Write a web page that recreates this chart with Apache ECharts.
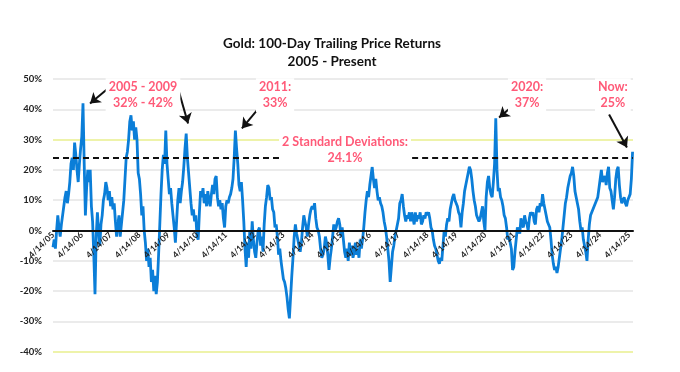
<!DOCTYPE html>
<html><head><meta charset="utf-8">
<script src="https://cdn.jsdelivr.net/npm/echarts/dist/echarts.min.js"></script>
<style>html,body{margin:0;padding:0;background:#fff}#c{width:680px;height:372px}</style>
</head><body><div id="c"></div>
<script>
// 100-day trailing returns (%), 24 samples per year starting 4/14/05
const y2005 = [-5.5, -3, -6, 0, 5, 1, -2, 2, 5, 8, 11, 13, 9, 12, 16, 22, 24, 20, 29, 25, 20, 16, 22, 27];
const y2006 = [31, 42, 22, 5, 14, 20, 16, 20, 8, 3, -8, -21, -2, 6, 0, -5, 2, 5, 10, 12, 16, 14, 10, 13];
const y2007 = [8, 11, 7, 9, 3, -2, 2, 5, -2, 2, 6, 10, 17, 24, 26, 30, 36, 38, 33, 36, 30, 34, 30, 19];
const y2008 = [17, 12, 5, 8, 0, -4, -10, -6, -12, -9, -17, -13, -20, -15, -21, -17, -8, 2, 12, 20, 25, 22, 33, 22];
const y2009 = [17, 12, 14, 9, 5, 1, -4, 3, 10, 14, 9, 13, 16, 21, 27, 32, 24, 19, 14, 9, 5, 7, 3, 5];
const y2010 = [-2, -3, 6, 13, 11, 14, 9, 12, 8, 13, 10, 8, 12, 15, 12, 17, 18, 11, 8, 10, 7, 9, 4, 1];
const y2011 = [8, 10, 9, 11, 12, 14, 17, 24, 33, 27, 22, 15, 13, 16, 10, 3, -6, -12, -4, -9, 0, -6, 3, -3];
const y2012 = [-7, -9, -4, 0, 1, -5, -2, -7, 2, 8, 11, 15, 14, 10, 11, 7, 6, 1, 2, -2, -8, -6, -10, -13];
const y2013 = [-16, -17, -19, -22, -26, -29, -22, -15, -9, -2, 2, -1, -3, -5, -7, -4, 1, 5, 3, 1, -2, 2, 5, 7];
const y2014 = [8, 7, 9, 4, 1, 0, -2, -6, -9, -8, -6, -2, -4, -8, -13, -9, -6, -2, 2, 0, 1, 3, 4, 2];
const y2015 = [-2, 1, -3, -7, -9, -6, -10, -4, -8, -5, -9, -7, -4, -8, -6, -9, -3, -6, -3, 1, 6, 10, 13, 11];
const y2016 = [15, 18, 21, 17, 14, 17, 13, 10, 11, 9, 8, 6, 3, 1, -2, -6, -10, -17, -12, -7, -5, -2, 0, 2];
const y2017 = [4, 9, 10, 12, 8, 5, 3, 5, 4, 6, 3, 6, 4, 2, 6, 3, 5, 4, 6, 2, 3, 5, 4, 6];
const y2018 = [5, 6, 4, 1, 0, -3, -5, -6, -8, -10, -11, -9, -10, -5, 0, -2, 2, 4, 3, 7, 9, 11, 12, 10];
const y2019 = [9, 8, 6, 5, 1, 6, 9, 13, 15, 17, 19, 21, 20, 17, 13, 10, 8, 5, 4, 3, 4, 6, 8, 3];
const y2020 = [0, 11, 16, 18, 14, 12, 11, 16, 22, 37, 20, 13, 14, 11, 10, 8, 5, 4, 1, -3, -2, -4, -6, -13];
const y2021 = [-12, -7, -3, 1, 0, -1, 4, 2, 1, 5, 3, 2, 0, 4, 6, 5, 6, 3, 2, 7, 8, 6, 9, 8];
const y2022 = [12, 9, 7, 5, 3, 2, 1, -3, -8, -11, -13, -12, -14, -12, -9, -6, -3, 1, 5, 9, 11, 14, 16, 18];
const y2023 = [19, 21, 18, 13, 11, 9, 7, 3, 0, 1, -3, -5, -7, -10, -3, 2, 5, 6, 7, 8, 9, 10, 11, 14];
const y2024 = [17, 20, 16, 17, 18, 15, 19, 21, 14, 13, 10, 7, 11, 17, 20, 21, 15, 11, 9, 10, 11, 9, 8, 10];
const y2025 = [10, 12, 17, 26];

const samplesPerYear = 24;
const firstYear = 2005;
const stdDev2 = 24.1;
const yTickValues = [-40, -30, -20, -10, 0, 10, 20, 30, 40, 50];

const returns = [].concat(y2005, y2006, y2007, y2008, y2009, y2010, y2011, y2012, y2013, y2014,
  y2015, y2016, y2017, y2018, y2019, y2020, y2021, y2022, y2023, y2024, y2025);

const seriesData = returns.map((v, i) => [i / samplesPerYear, v]);
const xMax = 20.14;
const yMin = -40, yMax = 50;

const RED = '#ff5a78';
const FONT = 'Lato';
const grey = '#e4e4e4', yellow = '#e9ef8e';
const splitColors = yTickValues.map(v => (v === 30 || v === -40) ? yellow : grey);

const gridTop = 79, gridBottomY = 351.7;
// shift the x axis (line + labels) up from the grid bottom to the 0% level
const zeroOffset = -(gridBottomY - gridTop) * (0 - yMin) / (yMax - yMin);

function arrow(from, to) {
  return [
    {coord: from, symbol: 'none', lineStyle: {color: '#111', width: 2, type: 'solid'}},
    {coord: to, symbol: 'arrow', symbolSize: 10}
  ];
}
function dash(x0, x1) {
  return [
    {coord: [x0, stdDev2], symbol: 'none', lineStyle: {color: '#111', width: 2, type: [6, 4]}},
    {coord: [x1, stdDev2], symbol: 'none'}
  ];
}
function note(t, v, text) {
  return {coord: [t, v], value: text, symbol: 'rect', symbolSize: 1, itemStyle: {color: 'rgba(0,0,0,0)'},
    label: {show: true, position: 'inside', formatter: text, color: RED, fontFamily: FONT, fontWeight: 'bold',
      fontSize: 12.5, lineHeight: 16, backgroundColor: '#fff', padding: [1, 3]}};
}

const chart = echarts.init(document.getElementById('c'), null, {renderer: 'canvas'});
chart.setOption({
  animation: false,
  backgroundColor: '#fff',
  graphic: [
    {type: 'text', x: 332, y: 44, style: {text: 'Gold: 100-Day Trailing Price Returns', textAlign: 'center', textVerticalAlign: 'middle', fill: '#111', font: 'bold 13.5px Lato'}},
    {type: 'text', x: 332, y: 62, style: {text: '2005 - Present', textAlign: 'center', textVerticalAlign: 'middle', fill: '#111', font: 'bold 13.5px Lato'}}
  ],
  grid: {left: 53, right: 680 - 633, top: gridTop, bottom: 372 - gridBottomY},
  xAxis: {
    type: 'value', min: 0, max: xMax, interval: 1, z: 5,
    offset: zeroOffset,
    axisLine: {onZero: false, lineStyle: {color: '#111', width: 2}},
    axisTick: {show: false},
    splitLine: {show: false},
    axisLabel: {
      rotate: 45, margin: 3, color: '#222', fontFamily: FONT, fontWeight: 'bold', fontSize: 8.5,
      formatter: v => Number.isInteger(v) ? '4/14/' + String((firstYear + v) % 100).padStart(2, '0') : ''
    }
  },
  yAxis: {
    type: 'value', min: yMin, max: yMax, interval: 10,
    axisLine: {show: false}, axisTick: {show: false},
    axisLabel: {formatter: '{value}%', color: '#222', fontFamily: FONT, fontWeight: 'bold', fontSize: 9.5, margin: 11},
    splitLine: {lineStyle: {color: splitColors, width: 1.5}}
  },
  series: [{
    type: 'line', data: seriesData, showSymbol: false, symbol: 'none',
    lineStyle: {color: '#0b7ed8', width: 2.8},
    markLine: {
      silent: true, animation: false, label: {show: false},
      data: [
        dash(0, 7.88), dash(12.47, xMax),
        arrow([1.91, 46.9], [1.285, 41.9]),
        arrow([4.34, 46.9], [4.69, 35.3]),
        arrow([7.19, 40.9], [6.56, 33.7]),
        arrow([15.94, 40.9], [15.49, 37.3]),
        arrow([19.31, 38.3], [19.93, 27.4])
      ]
    },
    markPoint: {
      silent: true, animation: false,
      data: [
        note(3.125, 44.6, '2005 - 2009\n32% - 42%'),
        note(7.71, 44.6, '2011:\n33%'),
        note(10.14, 26.7, '2 Standard Deviations:\n24.1%'),
        note(16.46, 44.6, '2020:\n37%'),
        note(19.44, 44.6, 'Now:\n25%')
      ]
    }
  }]
});
</script></body></html>
